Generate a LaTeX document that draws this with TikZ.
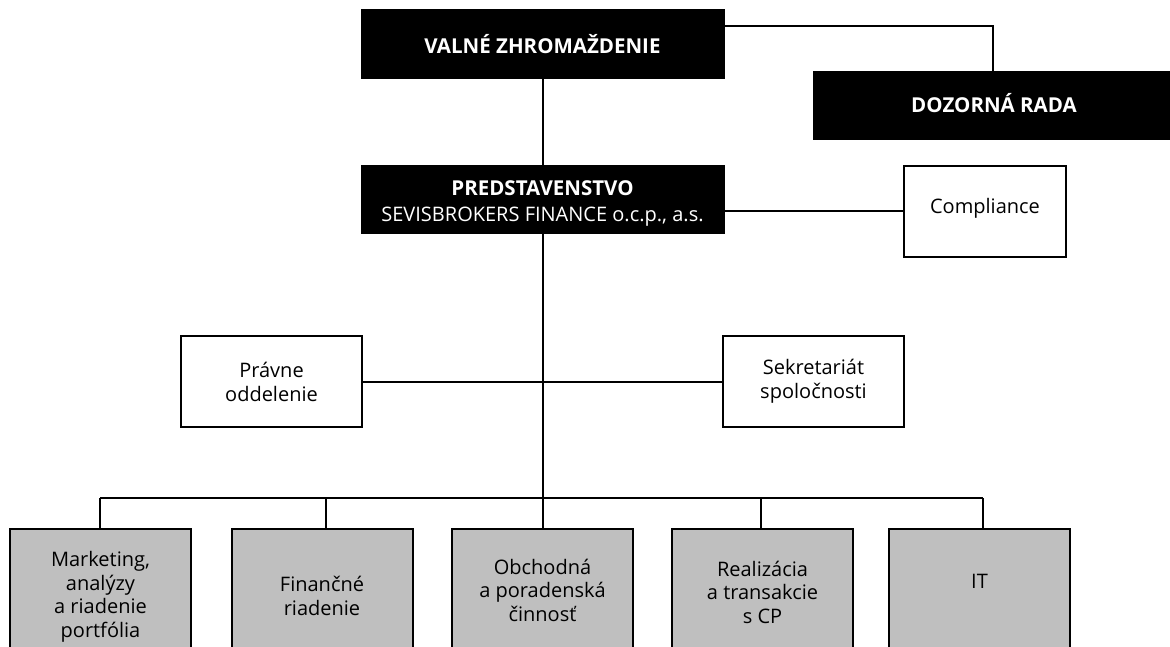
\documentclass[tikz,border=0pt]{standalone}
\usepackage{fontspec}
\setmainfont{Open Sans}
\begin{document}
\begin{tikzpicture}[x=1pt,y=-1pt,
  conn/.style={line width=2pt},
  blackbox/.style={draw=black,fill=black,text=white,line width=1pt,inner sep=0pt,align=center,font=\fontsize{20}{26}\selectfont},
  whitebox/.style={draw=black,fill=white,line width=2pt,inner sep=0pt,align=center,font=\fontsize{20}{24}\selectfont},
  greybox/.style={draw=black,fill=gray!50!white,line width=2pt,inner sep=0pt},
  greytext/.style={font=\fontsize{20}{23.5}\selectfont,align=center,inner sep=0pt}]
\useasboundingbox (0,0) rectangle (1170,647);
\begin{scope}
\clip (0,0) rectangle (1170,647);
% top boxes
\node[blackbox,minimum width=363pt,minimum height=69pt] (vz) at (542.5,44.5) {\fontsize{20.5}{26}\selectfont\bfseries VALNÉ ZHROMAŽDENIE};
\node[blackbox,minimum width=362pt,minimum height=68pt] (dr) at (994,105.5) {\fontsize{20.5}{26}\selectfont\bfseries DOZORNÁ RADA\vphantom{g}};
\node[blackbox,minimum width=363pt,minimum height=68pt] (pr) at (542.5,200) {};
\node[blackbox,fill=none,draw=none,inner sep=0pt] (prt) at (542.5,203) {{\fontsize{20.5}{26}\selectfont\bfseries PREDSTAVENSTVO}\\SEVISBROKERS FINANCE o.c.p., a.s.};
\node[whitebox,minimum width=162pt,minimum height=91pt] (co) at (985,211.5) {};
\node[font=\fontsize{20}{24}\selectfont,inner sep=0pt] (cot) at (985,208) {Compliance};
\node[whitebox,minimum width=181pt,minimum height=91pt] (pv) at (271.5,381.5) {Právne\\oddelenie};
\node[whitebox,minimum width=181pt,minimum height=91pt] (sk) at (813.5,381.5) {Sekretariát\\spoločnosti};
% bottom boxes
\node[greybox,minimum width=181pt,minimum height=150pt,anchor=north] (b1) at (100.5,528) {};
\node[greybox,minimum width=181pt,minimum height=150pt,anchor=north] (b2) at (322.5,528) {};
\node[greybox,minimum width=181pt,minimum height=150pt,anchor=north] (b3) at (542.5,528) {};
\node[greybox,minimum width=181pt,minimum height=150pt,anchor=north] (b4) at (762.5,528) {};
\node[greybox,minimum width=181pt,minimum height=150pt,anchor=north] (b5) at (979.5,528) {};
\node[greytext] (t1) at (100.5,597) {Marketing,\\analýzy\\a riadenie\\portfólia};
\node[greytext] (t2) at (322,596) {Finančné\\riadenie};
\node[greytext] (t3) at (542.5,590) {Obchodná\\a poradenská\\činnosť};
\node[greytext] (t4) at (762.5,592) {Realizácia\\a transakcie\\s CP};
\node[greytext] (t5) at (979.5,581) {IT};
\end{scope}
% connectors
\coordinate (j1) at (993,26);
\draw[conn] (vz.east |- j1) -- (j1) -- (j1 |- dr.north);
\draw[conn] (vz.south) -- (pr.north);
\draw[conn] (pr.east |- 0,211) -- (co.west |- 0,211);
\coordinate (bus) at (542.5,498);
\draw[conn] (pr.south) -- (bus);
\draw[conn] (pv.east) -- (sk.west);
\coordinate (busl) at (100,498);
\coordinate (busr) at (983,498);
\draw[conn] (busl) -- (busr);
\draw[conn] (busl) -- (b1.north -| busl);
\draw[conn] (326,498) -- (b2.north -| 326,0);
\draw[conn] (bus) -- (b3.north);
\draw[conn] (761,498) -- (b4.north -| 761,0);
\draw[conn] (busr) -- (b5.north -| busr);
\end{tikzpicture}
\end{document}
